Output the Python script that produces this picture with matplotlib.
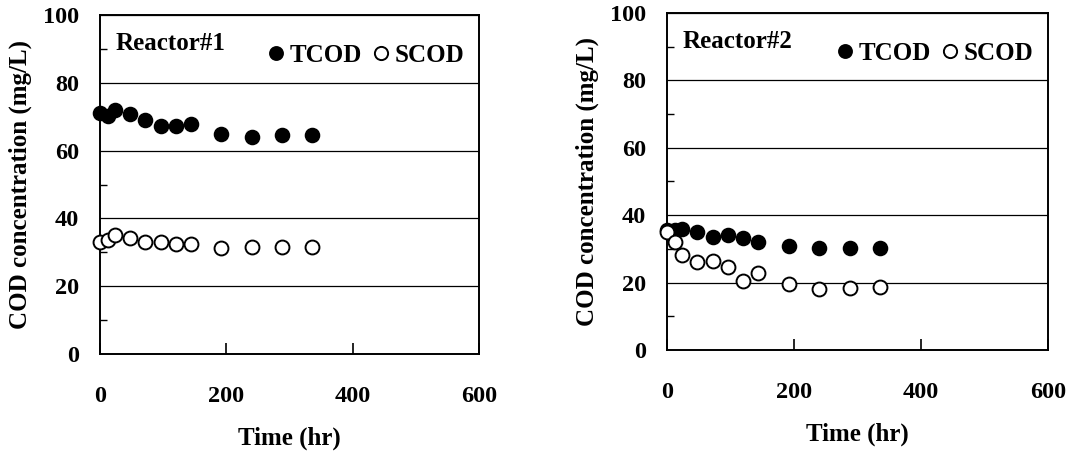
import matplotlib.pyplot as plt
from matplotlib.ticker import MultipleLocator

time_hr = [0, 12, 24, 48, 72, 96, 120, 144, 192, 240, 288, 336]

r1_tcod = [71.0, 70.2, 72.0, 70.8, 69.0, 67.2, 67.2, 67.9, 64.9, 64.0, 64.7, 64.5]
r1_scod = [33.1, 33.6, 35.1, 34.3, 32.9, 32.9, 32.4, 32.4, 31.3, 31.5, 31.5, 31.5]

r2_tcod = [35.5, 35.7, 35.9, 34.9, 33.6, 34.2, 33.2, 32.0, 30.9, 30.2, 30.4, 30.4]
r2_scod = [34.9, 31.9, 28.2, 26.1, 26.5, 24.5, 20.6, 22.8, 19.6, 18.2, 18.4, 18.7]

panels = [
    ("Reactor#1", r1_tcod, r1_scod),
    ("Reactor#2", r2_tcod, r2_scod),
]

plt.rcParams["font.family"] = ["Liberation Serif", "DejaVu Serif"]
plt.rcParams["font.weight"] = "bold"

FS = 18

fig = plt.figure(figsize=(10.74, 4.53), dpi=100)
# axes boxes in pixels (left, bottom, width, height)
boxes = [(100, 453 - 354, 379, 339), (667, 453 - 350, 381, 337)]

for (name, tcod, scod), (l, b, w, h) in zip(panels, boxes):
    ax = fig.add_axes([l / 1074, b / 453, w / 1074, h / 453])
    ax.set_xlim(0, 600)
    ax.set_ylim(0, 100)
    ax.xaxis.set_major_locator(MultipleLocator(200))
    ax.yaxis.set_major_locator(MultipleLocator(20))
    ax.yaxis.set_minor_locator(MultipleLocator(10))
    ax.grid(True, axis="y", which="major", color="black", lw=0.9)
    ax.set_axisbelow(True)
    ax.tick_params(axis="x", direction="in", length=8, width=1.2, pad=23,
                   labelsize=FS - 0.5, top=False)
    ax.tick_params(axis="y", which="major", direction="in", length=0, pad=15,
                   labelsize=FS - 0.5)
    ax.tick_params(axis="y", which="minor", direction="in", length=5, width=1.0)
    for s in ax.spines.values():
        s.set_linewidth(1.4)

    ax.plot(time_hr, tcod, "o", ms=10, mfc="black", mec="black", mew=1.2,
            label="TCOD", clip_on=False, zorder=3)
    ax.plot(time_hr, scod, "o", ms=10, mfc="white", mec="black", mew=1.4,
            label="SCOD", clip_on=False, zorder=4)

    ax.text(0.04, 0.915, name, transform=ax.transAxes, fontsize=FS,
            fontweight="bold", va="center", ha="left")
    ax.legend(loc="center right", bbox_to_anchor=(1.0, 0.88), ncol=2,
              frameon=False, fontsize=FS, handlelength=0.6, handletextpad=0.25,
              columnspacing=0.45, borderaxespad=0.2, markerscale=0.95)

    ax.set_xlabel("Time (hr)", fontsize=FS, fontweight="bold", labelpad=14)
    ax.set_ylabel("COD concentration (mg/L)", fontsize=FS, fontweight="bold",
                  labelpad=8)

fig.savefig("out.png", dpi=100)
